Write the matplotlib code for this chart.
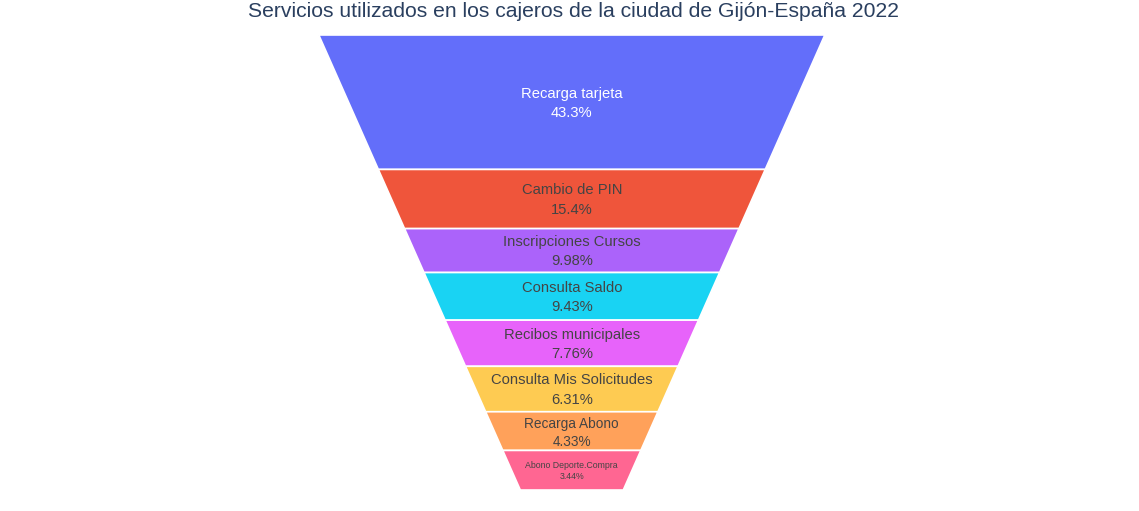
import numpy as np
import matplotlib.pyplot as plt
from matplotlib.patches import Polygon

plt.rcParams['font.family'] = ['Liberation Sans', 'DejaVu Sans']

servicios = ["Recarga tarjeta", "Cambio de PIN", "Inscripciones Cursos", "Consulta Saldo",
             "Recibos municipales", "Consulta Mis Solicitudes", "Recarga Abono",
             "Abono Deporte.Compra"]
porcentajes = [43.3, 15.4, 9.98, 9.43, 7.76, 6.31, 4.33, 3.44]
colores = ["#636EFA", "#EF553B", "#AB63FA", "#19D3F3", "#E763FA", "#FECB52", "#FFA15A", "#FF6692"]
color_texto = ["white", "#444444", "#444444", "#444444", "#444444", "#444444", "#444444", "#444444"]
tam_texto = [14.8, 14.8, 14.8, 14.8, 14.8, 14.8, 13.6, 8.8]  # px

W, H = 1139, 511
fig = plt.figure(figsize=(W / 100, H / 100), dpi=100)
ax = fig.add_axes([0, 0, 1, 1])
ax.set_xlim(0, W)
ax.set_ylim(H, 0)
ax.axis("off")

# trapecio del embudo (pixeles)
cx, y0, y1 = 571.8, 35, 490
top_w, bot_w = 506, 103
alto = y1 - y0
k = (top_w - bot_w) / alto  # perdida de ancho por pixel


def ancho(h):
    return top_w - k * h


def area_hasta(h):
    return top_w * h - k * h * h / 2


total_area = area_hasta(alto)
vals = np.array(porcentajes)
acum = np.concatenate([[0], np.cumsum(vals) / vals.sum()]) * total_area
# resolver area_hasta(h) = a
hs = [(top_w - np.sqrt(top_w ** 2 - 2 * k * a)) / k for a in acum]

for i, nombre in enumerate(servicios):
    ha, hb = hs[i], hs[i + 1]
    wa, wb = ancho(ha), ancho(hb)
    ya, yb = y0 + ha, y0 + hb
    pts = [(cx - wa / 2, ya), (cx + wa / 2, ya), (cx + wb / 2, yb), (cx - wb / 2, yb)]
    ax.add_patch(Polygon(pts, closed=True, facecolor=colores[i], edgecolor="white", linewidth=1.2))
    ym = (ya + yb) / 2 + (2 if i == 6 else 1)
    fs = tam_texto[i] * 0.72
    sep = tam_texto[i] * 0.65
    ax.text(cx, ym - sep, nombre, ha="center", va="center", fontsize=fs, color=color_texto[i])
    ax.text(cx, ym + sep, f"{porcentajes[i]:.3g}%", ha="center", va="center", fontsize=fs,
            color=color_texto[i])

ax.text(574, 11.5, "Servicios utilizados en los cajeros de la ciudad de Gijón-España 2022",
        ha="center", va="center", fontsize=15.2, color="#2a3f5f")

fig.savefig("out.png", dpi=100)
